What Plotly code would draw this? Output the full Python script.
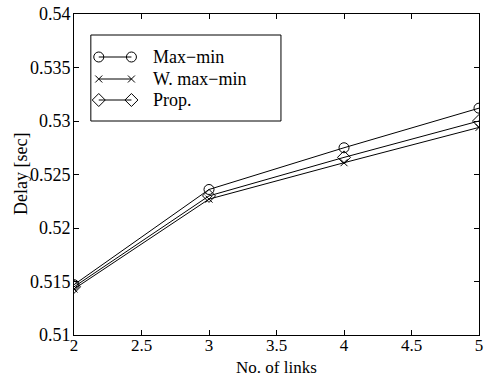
import plotly.graph_objects as go

# Average delay versus number of links for three allocation schemes
links = [2, 3, 4, 5]
maxmin_delay = [0.5147, 0.5236, 0.5275, 0.5312]
wmaxmin_delay = [0.5143, 0.5227, 0.5261, 0.5294]
prop_delay = [0.5145, 0.5230, 0.5266, 0.5300]

series_names = ["Max\u2212min", "W. max\u2212min", "Prop."]
series_symbols = ["circle-open", "x-thin-open", "diamond-open"]
series_values = [maxmin_delay, wmaxmin_delay, prop_delay]

x_ticks = [2, 2.5, 3, 3.5, 4, 4.5, 5]
y_ticks = [0.51, 0.515, 0.52, 0.525, 0.53, 0.535, 0.54]

FONT = "Liberation Serif"
W, H = 485, 378
L, R, T, B = 74, 483, 14, 335
PW, PH = R - L, B - T


def marker_style(sym):
    return dict(symbol=sym, size=10 if sym != "x-thin-open" else 7,
                color="black", line=dict(color="black", width=1))


fig = go.Figure()
for name, sym, vals in zip(series_names, series_symbols, series_values):
    fig.add_trace(go.Scatter(
        x=links, y=vals, mode="lines+markers", name=name,
        line=dict(color="black", width=1),
        marker=marker_style(sym),
        showlegend=False,
    ))

# Legend panel drawn on a pixel-scaled overlay axis
box = dict(x0=91, x1=283, y0=35, y1=121)
rows_y = [57, 79, 100]
seg_x = [99, 132]
text_x = 152
for name, sym, ry in zip(series_names, series_symbols, rows_y):
    fig.add_trace(go.Scatter(
        x=seg_x, y=[ry, ry], xaxis="x2", yaxis="y2", mode="lines+markers",
        line=dict(color="black", width=1),
        marker=marker_style(sym),
        showlegend=False, hoverinfo="skip",
    ))
    fig.add_annotation(x=text_x, y=ry, xref="x2", yref="y2", text=name,
                       showarrow=False, xanchor="left", yanchor="middle",
                       font=dict(family=FONT, size=18, color="black"))
fig.add_shape(type="rect", xref="x2", yref="y2", **box,
              line=dict(color="black", width=1), fillcolor="rgba(0,0,0,0)")

# Axis titles
fig.add_annotation(text="No. of links", xref="paper", yref="paper",
                   x=0.5, y=(B - 367) / PH, xanchor="center", yanchor="middle",
                   showarrow=False, font=dict(family=FONT, size=17, color="black"))
fig.add_annotation(text="Delay [sec]", xref="paper", yref="paper",
                   x=(20 - L) / PW, y=0.5, xanchor="center", yanchor="middle",
                   textangle=-90, showarrow=False,
                   font=dict(family=FONT, size=18, color="black"))

axis_common = dict(
    showgrid=False, zeroline=False, showline=True, linecolor="black",
    linewidth=1, mirror="ticks", ticks="inside", ticklen=5,
    tickcolor="black", tickfont=dict(family=FONT, size=18, color="black"),
    ticklabeloverflow="allow",
)
x_axis_style = dict(axis_common, tickfont=dict(family=FONT, size=17, color="black"))
fig.update_layout(
    width=W, height=H,
    margin=dict(l=L, r=W - R, t=T, b=H - B),
    paper_bgcolor="white", plot_bgcolor="white",
    font=dict(family=FONT, color="black"),
    xaxis=dict(range=[2, 5], tickvals=x_ticks, ticktext=[f"{v:g}" for v in x_ticks],
               ticklabelstandoff=-5, **x_axis_style),
    yaxis=dict(range=[0.51, 0.54], tickvals=y_ticks, ticktext=[f"{v:g}" for v in y_ticks],
               ticklabelstandoff=-1, **axis_common),
    xaxis2=dict(range=[L, R], overlaying="x", visible=False, fixedrange=True),
    yaxis2=dict(range=[B, T], overlaying="y", visible=False, fixedrange=True),
    showlegend=False,
)

fig.write_html("out.html")
